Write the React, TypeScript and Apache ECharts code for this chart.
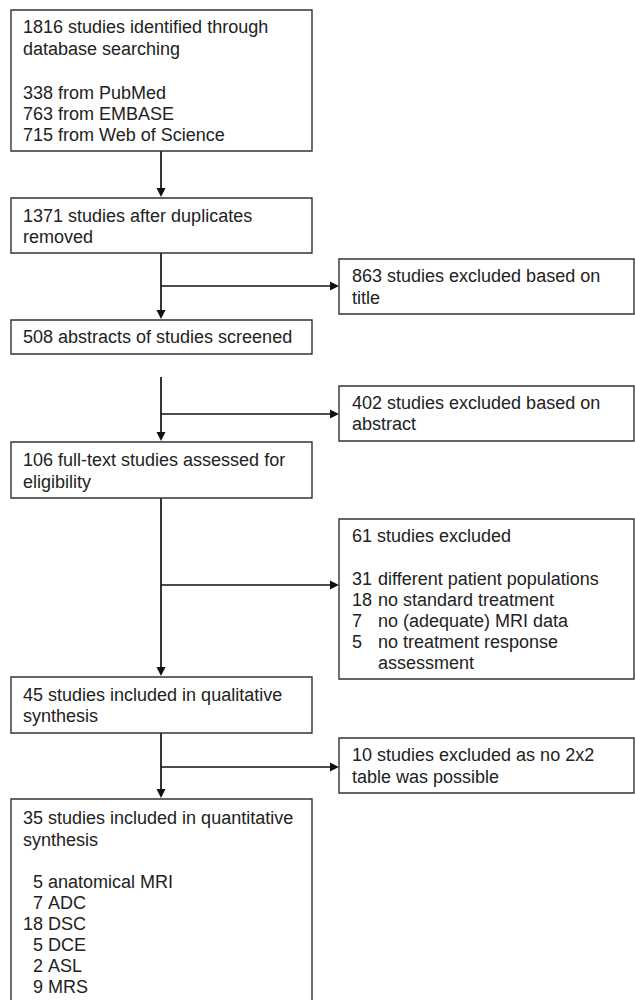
import React, { useEffect, useRef } from "react";
import * as echarts from "echarts";

// ---------- DATA ----------
const sourceNames = ["PubMed", "EMBASE", "Web of Science"];
const sourceCounts = [338, 763, 715];

const stepCounts = [1816, 1371, 508, 106, 45, 35];
const stepLabels = [
  ["studies identified through", "database searching"],
  ["studies after duplicates", "removed"],
  ["abstracts of studies screened"],
  ["full-text studies assessed for", "eligibility"],
  ["studies included in qualitative", "synthesis"],
  ["studies included in quantitative", "synthesis"],
];

const exclusionCounts = [863, 402, 61, 10];
const exclusionLabels = [
  ["studies excluded based on", "title"],
  ["studies excluded based on", "abstract"],
  ["studies excluded"],
  ["studies excluded as no 2x2", "table was possible"],
];

const reasonCounts = [31, 18, 7, 5];
const reasonLabels = [
  ["different patient populations"],
  ["no standard treatment"],
  ["no (adequate) MRI data"],
  ["no treatment response", "assessment"],
];

const modalityCounts = [5, 7, 18, 5, 2, 9];
const modalityNames = ["anatomical MRI", "ADC", "DSC", "DCE", "ASL", "MRS"];

// ---------- LAYOUT ----------
const FONT = "'Liberation Sans', Arial, Helvetica, sans-serif";
const FS = 18;
const TEXT_COLOR = "#222";
const BOX_STROKE = "#333";
const LINE_COLOR = "#111";

const LEFT_X = 11;
const LEFT_W = 301;
const CX = 161;
const TEXT_X = 23;
const RIGHT_X = 339;
const RIGHT_W = 295;
const R_TEXT_X = 352;
const R_INDENT_X = 378;

// step boxes: [top, bottom, line y positions]
const stepBoxes = [
  { top: 10, bottom: 151, lines: [27, 49] },
  { top: 198, bottom: 253, lines: [216, 237] },
  { top: 320, bottom: 354, lines: [337] },
  { top: 442, bottom: 498, lines: [460, 482] },
  { top: 677, bottom: 733, lines: [695, 716] },
  { top: 799, bottom: 1010, lines: [818, 840] },
];
const sourceLineY = [93, 114, 135];
const modalityLineY = [882, 903, 924, 945, 966, 987];

const exclBoxes = [
  { top: 259, bottom: 314, lines: [276, 298], branch: 286 },
  { top: 386, bottom: 441, lines: [403, 424], branch: 414 },
  { top: 519, bottom: 679, lines: [536], branch: 585 },
  { top: 738, bottom: 793, lines: [755, 777], branch: 767 },
];
const reasonLineY = [579, 600, 621, 642];

// connectors: start y, end (arrow tip) y, exclusion index
const connectors = [
  { from: 151, to: 197, excl: -1 },
  { from: 253, to: 319, excl: 0 },
  { from: 377, to: 441, excl: 1 },
  { from: 498, to: 676, excl: 2 },
  { from: 733, to: 798, excl: 3 },
];

function txt(x: number, y: number, s: string, align = "left"): any {
  return {
    type: "text",
    x,
    y,
    silent: true,
    style: {
      text: s,
      fill: TEXT_COLOR,
      fontSize: FS,
      fontFamily: FONT,
      align,
      verticalAlign: "middle",
    },
  };
}

function rect(x: number, y: number, w: number, h: number): any {
  return {
    type: "rect",
    shape: { x, y, width: w, height: h },
    style: { fill: "#fff", stroke: BOX_STROKE, lineWidth: 1.4 },
  };
}

function line(x1: number, y1: number, x2: number, y2: number): any {
  return {
    type: "line",
    shape: { x1, y1, x2, y2 },
    style: { stroke: LINE_COLOR, lineWidth: 1.7 },
  };
}

function arrowDown(x: number, tipY: number): any {
  return {
    type: "polygon",
    shape: { points: [[x - 4.5, tipY - 9], [x + 4.5, tipY - 9], [x, tipY]] },
    style: { fill: LINE_COLOR },
  };
}

function arrowRight(tipX: number, y: number): any {
  return {
    type: "polygon",
    shape: { points: [[tipX - 9, y - 4.5], [tipX - 9, y + 4.5], [tipX, y]] },
    style: { fill: LINE_COLOR },
  };
}

function buildElements(): any[] {
  const els: any[] = [];

  // connectors
  connectors.forEach((c) => {
    els.push(line(CX, c.from, CX, c.to - 8));
    els.push(arrowDown(CX, c.to));
    if (c.excl >= 0) {
      const b = exclBoxes[c.excl];
      els.push(line(CX, b.branch, RIGHT_X - 8, b.branch));
      els.push(arrowRight(RIGHT_X, b.branch));
    }
  });

  // step boxes
  stepBoxes.forEach((b, i) => {
    els.push(rect(LEFT_X, b.top, LEFT_W, b.bottom - b.top));
    stepLabels[i].forEach((l, j) => {
      const s = j === 0 ? `${stepCounts[i]} ${l}` : l;
      els.push(txt(TEXT_X, b.lines[j], s));
    });
  });

  // sources in first box
  sourceNames.forEach((n, i) => {
    els.push(txt(TEXT_X, sourceLineY[i], `${sourceCounts[i]} from ${n}`));
  });

  // modalities in last box
  modalityNames.forEach((n, i) => {
    els.push(txt(43, modalityLineY[i], `${modalityCounts[i]}`, "right"));
    els.push(txt(48, modalityLineY[i], n));
  });

  // exclusion boxes
  exclBoxes.forEach((b, i) => {
    els.push(rect(RIGHT_X, b.top, RIGHT_W, b.bottom - b.top));
    exclusionLabels[i].forEach((l, j) => {
      const s = j === 0 ? `${exclusionCounts[i]} ${l}` : l;
      els.push(txt(R_TEXT_X, b.lines[j], s));
    });
  });

  // reasons in third exclusion box
  let k = 0;
  reasonLabels.forEach((lines, i) => {
    lines.forEach((l, j) => {
      const y = reasonLineY[0] + k * 21;
      if (j === 0) els.push(txt(R_TEXT_X, y, `${reasonCounts[i]}`));
      els.push(txt(R_INDENT_X, y, l));
      k++;
    });
  });

  return els;
}

export default function App() {
  const ref = useRef<HTMLDivElement>(null);
  useEffect(() => {
    if (!ref.current) return;
    const chart = echarts.init(ref.current, undefined, { renderer: "svg" });
    chart.setOption({
      animation: false,
      backgroundColor: "#fff",
      graphic: { elements: buildElements() },
    });
    return () => chart.dispose();
  }, []);
  return (
    <div
      ref={ref}
      style={{ position: "absolute", left: 0, top: 0, width: 635, height: 1000, background: "#fff" }}
    />
  );
}
